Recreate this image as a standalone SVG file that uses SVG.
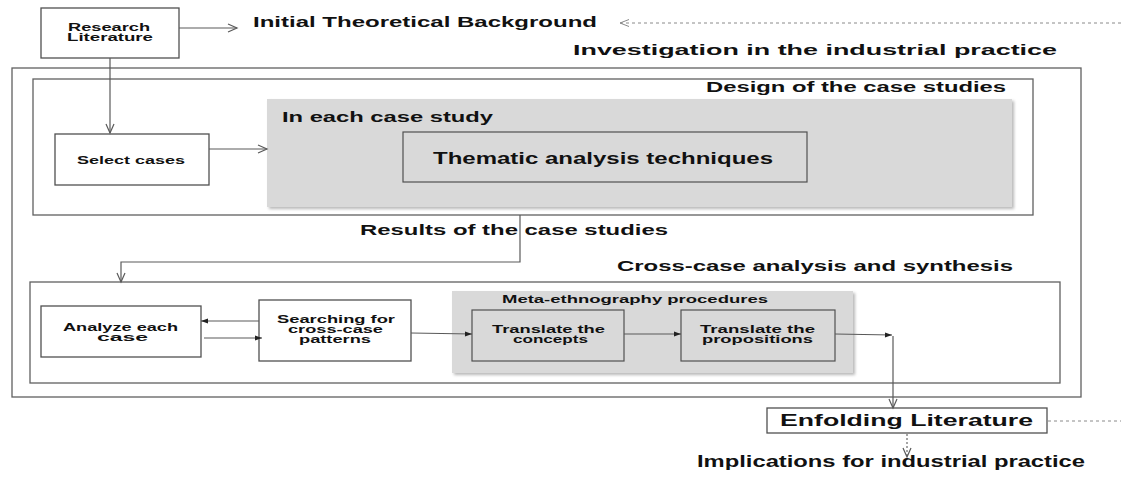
<svg xmlns="http://www.w3.org/2000/svg" width="1121" height="481" viewBox="0 0 1121 481">
<style>
.box{fill:#fff;stroke:#505050;stroke-width:1.3}
.frame{fill:none;stroke:#606060;stroke-width:1.3}
.shade{fill:#d9d9d9;stroke:none}
.inner{fill:none;stroke:#505050;stroke-width:1.2}
.t{font-family:"Liberation Sans",Arial,sans-serif;font-weight:bold;fill:#111}
.c{fill:none;stroke:#5a5a5a;stroke-width:1.2}
.dash{fill:none;stroke:#8a8a8a;stroke-width:1;stroke-dasharray:3 3}
.dot{fill:none;stroke:#6a6a6a;stroke-width:1.2;stroke-dasharray:2 2}
</style>
<defs>
<marker id="open" markerUnits="userSpaceOnUse" markerWidth="12" markerHeight="10" refX="9" refY="4" orient="auto" overflow="visible">
<path d="M0,0 L9,4 L0,8" fill="none" stroke="#5a5a5a" stroke-width="1.2"/>
</marker>
<marker id="openg" markerUnits="userSpaceOnUse" markerWidth="12" markerHeight="10" refX="9" refY="3.5" orient="auto" overflow="visible">
<path d="M0,0 L9,3.5 L0,7" fill="none" stroke="#8a8a8a" stroke-width="1"/>
</marker>
<marker id="fill" markerUnits="userSpaceOnUse" markerWidth="8" markerHeight="6" refX="7" refY="2.5" orient="auto" overflow="visible">
<path d="M0,0 L7,2.5 L0,5 Z" fill="#222"/>
</marker>
<filter id="sh" x="-5%" y="-10%" width="110%" height="120%">
<feGaussianBlur stdDeviation="1.5"/>
</filter>
</defs>

<g id="research-literature">
<rect class="box" x="41" y="8" width="138" height="50"/>
<text class="t" x="68" y="31" font-size="10.5" textLength="82" lengthAdjust="spacingAndGlyphs">Research</text>
<text class="t" x="67" y="41" font-size="10.5" textLength="86" lengthAdjust="spacingAndGlyphs">Literature</text>
</g>

<g id="initial-background">
<text class="t" x="253" y="27" font-size="14" textLength="344" lengthAdjust="spacingAndGlyphs">Initial Theoretical Background</text>
</g>

<g id="investigation">
<text class="t" x="573" y="55" font-size="15.5" textLength="484" lengthAdjust="spacingAndGlyphs">Investigation in the industrial practice</text>
<rect class="frame" x="12" y="68" width="1069" height="329"/>
</g>

<g id="design">
<rect class="frame" x="33" y="79" width="1000" height="136"/>
<text class="t" x="706" y="92" font-size="14" textLength="300" lengthAdjust="spacingAndGlyphs">Design of the case studies</text>
</g>

<g id="each-case-study">
<rect x="269" y="101" width="745" height="108" fill="#b8b8b8" filter="url(#sh)"/>
<rect class="shade" x="267" y="99" width="745" height="108"/>
<text class="t" x="282" y="122" font-size="15" textLength="211" lengthAdjust="spacingAndGlyphs">In each case study</text>
</g>

<g id="thematic">
<rect class="inner" x="403" y="132" width="404" height="50"/>
<text class="t" x="433" y="164" font-size="16" textLength="340" lengthAdjust="spacingAndGlyphs">Thematic analysis techniques</text>
</g>

<g id="select-cases">
<rect class="box" x="55" y="134" width="154" height="51"/>
<text class="t" x="77" y="164" font-size="10.5" textLength="108" lengthAdjust="spacingAndGlyphs">Select cases</text>
</g>

<g id="results">
<text class="t" x="360" y="235" font-size="15" textLength="308" lengthAdjust="spacingAndGlyphs">Results of the case studies</text>
</g>

<g id="cross-case">
<text class="t" x="617" y="271" font-size="15" textLength="396" lengthAdjust="spacingAndGlyphs">Cross-case analysis and synthesis</text>
<rect class="frame" x="30" y="282" width="1030" height="101"/>
</g>

<g id="analyze">
<rect class="box" x="41" y="306" width="160" height="51"/>
<text class="t" x="63" y="331" font-size="11" textLength="115" lengthAdjust="spacingAndGlyphs">Analyze each</text>
<text class="t" x="97" y="341" font-size="11" textLength="51" lengthAdjust="spacingAndGlyphs">case</text>
</g>

<g id="searching">
<rect class="box" x="259" y="300" width="152" height="61"/>
<text class="t" x="277" y="323" font-size="11" textLength="118" lengthAdjust="spacingAndGlyphs">Searching for</text>
<text class="t" x="288" y="333" font-size="11" textLength="95" lengthAdjust="spacingAndGlyphs">cross-case</text>
<text class="t" x="299" y="343" font-size="11" textLength="72" lengthAdjust="spacingAndGlyphs">patterns</text>
</g>

<g id="meta-ethnography">
<rect x="454" y="293" width="401" height="82" fill="#b8b8b8" filter="url(#sh)"/>
<rect class="shade" x="452" y="291" width="401" height="82"/>
<text class="t" x="502" y="303" font-size="11" textLength="266" lengthAdjust="spacingAndGlyphs">Meta-ethnography procedures</text>
</g>

<g id="translate-concepts">
<rect class="inner" x="472" y="310" width="152" height="51"/>
<text class="t" x="492" y="333" font-size="11" textLength="113" lengthAdjust="spacingAndGlyphs">Translate the</text>
<text class="t" x="513" y="343" font-size="11" textLength="75" lengthAdjust="spacingAndGlyphs">concepts</text>
</g>

<g id="translate-propositions">
<rect class="inner" x="681" y="310" width="154" height="51"/>
<text class="t" x="700" y="333" font-size="11" textLength="115" lengthAdjust="spacingAndGlyphs">Translate the</text>
<text class="t" x="702" y="343" font-size="11" textLength="111" lengthAdjust="spacingAndGlyphs">propositions</text>
</g>

<g id="enfolding">
<rect class="box" x="767" y="408" width="280" height="25"/>
<text class="t" x="780" y="426" font-size="16" textLength="253" lengthAdjust="spacingAndGlyphs">Enfolding Literature</text>
</g>

<g id="implications">
<text class="t" x="697" y="467" font-size="16" textLength="388" lengthAdjust="spacingAndGlyphs">Implications for industrial practice</text>
</g>

<g id="connectors">
<line class="c" x1="179" y1="28" x2="237" y2="28" marker-end="url(#open)"/>
<line class="dash" x1="1121" y1="23" x2="620" y2="23" marker-end="url(#openg)"/>
<line class="c" x1="110" y1="58" x2="110" y2="133" marker-end="url(#open)"/>
<line class="c" x1="209" y1="149" x2="267" y2="149" marker-end="url(#open)"/>
<polyline class="c" points="520,215 520,262 121,262 121,282" marker-end="url(#open)"/>
<line class="c" x1="259" y1="321" x2="201" y2="321" marker-end="url(#fill)"/>
<line class="c" x1="204" y1="338" x2="262" y2="338" marker-end="url(#fill)"/>
<line class="c" x1="411" y1="333" x2="472" y2="334" marker-end="url(#fill)"/>
<line class="c" x1="624" y1="334" x2="681" y2="334" marker-end="url(#fill)"/>
<line class="c" x1="835" y1="334" x2="892" y2="335" marker-end="url(#fill)"/>
<line class="c" x1="893" y1="336" x2="893" y2="408" marker-end="url(#open)"/>
<line class="dash" x1="1048" y1="421" x2="1121" y2="421"/>
<line class="dot" x1="907" y1="434" x2="907" y2="457" marker-end="url(#open)"/>
</g>
</svg>
